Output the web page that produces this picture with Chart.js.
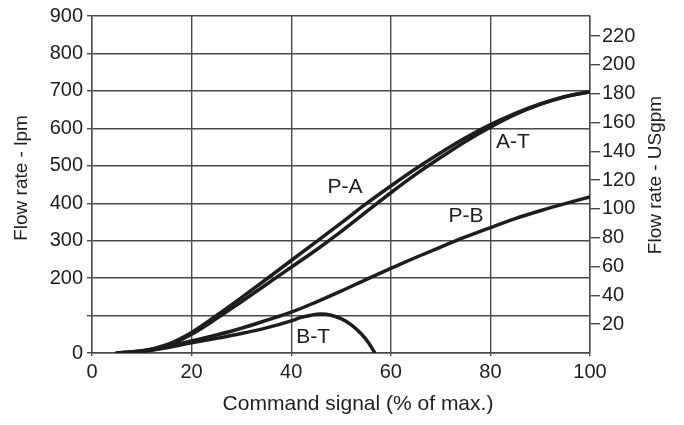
<!DOCTYPE html>
<html>
<head>
<meta charset="utf-8">
<script src="https://cdn.jsdelivr.net/npm/chart.js@4"></script>
<style>
  html, body { margin: 0; padding: 0; background: #fff; }
  #wrap { width: 684px; height: 425px; position: relative; }
</style>
</head>
<body>
<div id="wrap"><canvas id="chart"></canvas></div>
<script>
// axis ticks
const signalTicks = [0, 20, 40, 60, 80, 100];
const lpmTicks = [0, 100, 200, 300, 400, 500, 600, 700, 800, 900];
const lpmUnlabelled = [100];
const gpmTicks = [20, 40, 60, 80, 100, 120, 140, 160, 180, 200, 220];

// curves (x = command signal %, y = flow lpm)
const paSignal = [5, 10, 15, 20, 25, 30, 35, 40, 45, 50, 55, 60, 65, 70, 75, 80, 85, 90, 95, 100];
const paFlow   = [0, 5, 22, 55, 100, 148, 197, 247, 297, 347, 398, 446, 492, 535, 575, 610, 640, 665, 685, 698];

const atSignal = [5, 10, 15, 20, 25, 30, 35, 40, 45, 50, 55, 60, 65, 70, 75, 80, 85, 90, 95, 100];
const atFlow   = [0, 4, 18, 50, 92, 137, 183, 229, 275, 324, 376, 428, 477, 522, 565, 603, 637, 664, 684, 698];

const pbSignal = [5, 10, 15, 20, 25, 30, 35, 40, 45, 50, 55, 60, 65, 70, 75, 80, 85, 90, 95, 100];
const pbFlow   = [0, 6, 17, 32, 48, 66, 87, 109, 136, 165, 196, 226, 255, 283, 310, 335, 359, 380, 399, 417];

const btSignal = [5, 10, 15, 20, 25, 30, 35, 40, 42, 44, 46, 48, 50, 52, 54, 55.5, 56.8];
const btFlow   = [0, 5, 14, 27, 39, 52, 67, 86, 95, 101, 104, 101, 92, 76, 52, 28, 0];

const curveNames = ['P-A', 'A-T', 'P-B', 'B-T'];
// label anchor points in data units
const labelSignal = [50.8, 84.5, 75.1, 44.4];
const labelFlow   = [443, 563, 364, 43];

const gpmMax = 234;

const INK = '#1f1c1d';
const GRID = '#4a4a4a';
const FONT = "'Liberation Sans', Arial, sans-serif";

function toPoints(xs, ys) {
    return xs.map((x, i) => ({ x: x, y: ys[i] }));
}

const curveStyle = {
    borderColor: INK,
    borderWidth: 3.5,
    pointRadius: 0,
    fill: false,
    cubicInterpolationMode: 'monotone',
    borderCapStyle: 'round',
    borderJoinStyle: 'round'
};

const textPlugin = {
    id: 'texts',
    afterDraw(chart) {
        const ctx = chart.ctx;
        const xs = chart.scales.x;
        const ys = chart.scales.y;
        ctx.save();
        ctx.fillStyle = INK;
        ctx.textAlign = 'center';
        ctx.textBaseline = 'middle';

        // curve labels
        ctx.font = '21px ' + FONT;
        curveNames.forEach((name, i) => {
            ctx.fillText(name, xs.getPixelForValue(labelSignal[i]), ys.getPixelForValue(labelFlow[i]));
        });

        // axis titles
        ctx.font = '21px ' + FONT;
        ctx.fillText('Command signal (% of max.)', 358, 404);

        ctx.font = '19px ' + FONT;
        ctx.save();
        ctx.translate(22, 178);
        ctx.rotate(-Math.PI / 2);
        ctx.fillText('Flow rate - lpm', 0, 0);
        ctx.restore();

        ctx.save();
        ctx.translate(656, 175);
        ctx.rotate(-Math.PI / 2);
        ctx.fillText('Flow rate - USgpm', 0, 0);
        ctx.restore();

        ctx.restore();
    }
};

const ctx = document.getElementById('chart').getContext('2d');
new Chart(ctx, {
    type: 'line',
    data: {
        datasets: [
            Object.assign({ label: 'P-A', data: toPoints(paSignal, paFlow) }, curveStyle),
            Object.assign({ label: 'A-T', data: toPoints(atSignal, atFlow) }, curveStyle),
            Object.assign({ label: 'P-B', data: toPoints(pbSignal, pbFlow) }, curveStyle),
            Object.assign({ label: 'B-T', data: toPoints(btSignal, btFlow) }, curveStyle)
        ]
    },
    options: {
        responsive: true,
        maintainAspectRatio: false,
        animation: false,
        layout: { padding: { top: 14, left: 0, right: 0, bottom: 0 } },
        plugins: { legend: { display: false }, tooltip: { enabled: false } },
        scales: {
            x: {
                type: 'linear',
                min: 0, max: 100,
                afterBuildTicks: s => { s.ticks = signalTicks.map(v => ({ value: v })); },
                afterFit: s => { s.height = 72; },
                grid: { color: GRID, lineWidth: 1.4, tickLength: 3 },
                border: { color: GRID, width: 1.4 },
                ticks: { color: INK, font: { family: FONT, size: 20 }, padding: 4, maxRotation: 0 }
            },
            y: {
                type: 'linear',
                position: 'left',
                min: 0, max: 900,
                afterBuildTicks: s => { s.ticks = lpmTicks.map(v => ({ value: v })); },
                afterFit: s => { s.width = 92; },
                grid: { color: GRID, lineWidth: 1.4, tickLength: 5 },
                border: { color: GRID, width: 1.4 },
                ticks: {
                    color: INK, font: { family: FONT, size: 20 }, padding: 4,
                    callback: v => lpmUnlabelled.includes(v) ? '' : String(v)
                }
            },
            gpm: {
                type: 'linear',
                position: 'right',
                min: 0, max: gpmMax,
                afterBuildTicks: s => { s.ticks = gpmTicks.map(v => ({ value: v })); },
                afterFit: s => { s.width = 94; },
                grid: { drawOnChartArea: false, color: GRID, lineWidth: 1.4, tickLength: 10 },
                border: { color: GRID, width: 1.4 },
                ticks: { color: INK, font: { family: FONT, size: 20 }, padding: 2 }
            }
        }
    },
    plugins: [textPlugin]
});
</script>
</body>
</html>
